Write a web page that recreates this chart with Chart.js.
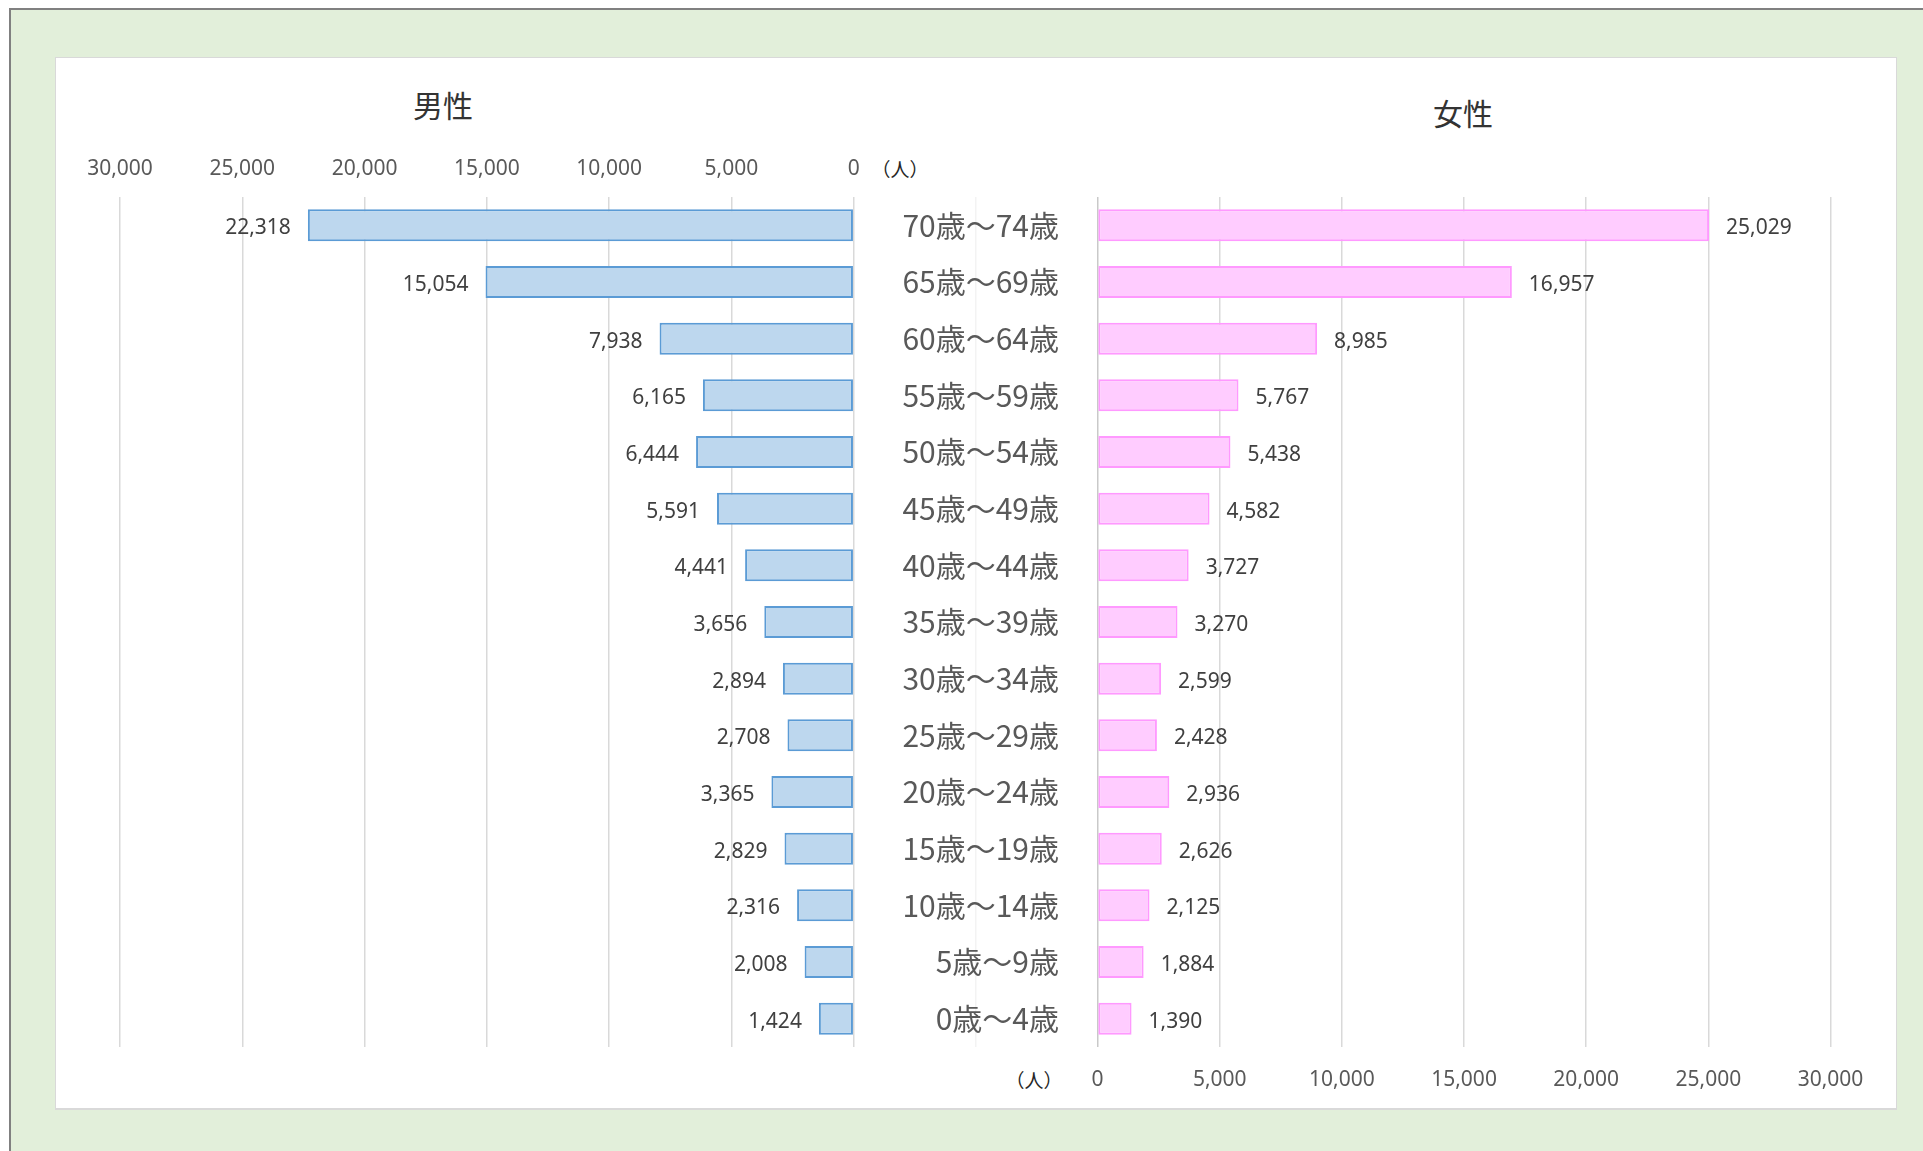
<!DOCTYPE html>
<html lang="ja">
<head>
<meta charset="utf-8">
<title>男女別・年齢別人口</title>
<script src="https://cdn.jsdelivr.net/npm/chart.js@4.4.1/dist/chart.umd.min.js"></script>
<style>
  html, body { margin: 0; padding: 0; width: 1923px; height: 1151px; background: #fff; overflow: hidden; }
  .frame { position: absolute; left: 9px; top: 8px; right: 0; bottom: 0; background: #e2efda;
           border-left: 2px solid #808080; border-top: 2px solid #808080; }
  .panel { position: absolute; left: 55px; top: 57px; width: 1840px; height: 1050px; background: #fff;
           border: 1px solid #d9d9d9; border-bottom-width: 2px; }
  canvas { position: absolute; }
  .label { position: absolute; transform: translate(-50%, -50%); white-space: nowrap;
           font-family: "Noto Sans CJK JP", sans-serif; line-height: 1; }
  .title { font-size: 30px; color: #333; }
  .unit { font-size: 19px; color: #262626; }
</style>
</head>
<body>
<div class="frame"></div>
<div class="panel"></div>

<div class="label title" style="left: 443px; top: 104px;">男性</div>
<div class="label title" style="left: 1463px; top: 112px;">女性</div>
<div class="label unit" style="left: 900px; top: 168px;">（人）</div>
<div class="label unit" style="left: 1034px; top: 1079px;">（人）</div>

<canvas id="male-chart" width="940" height="950" style="left: 60px; top: 120px;"></canvas>
<canvas id="female-chart" width="1000" height="960" style="left: 880px; top: 150px;"></canvas>

<script>
// Age groups, top row first
const ageGroups = [
  '70歳～74歳', '65歳～69歳', '60歳～64歳', '55歳～59歳', '50歳～54歳',
  '45歳～49歳', '40歳～44歳', '35歳～39歳', '30歳～34歳', '25歳～29歳',
  '20歳～24歳', '15歳～19歳', '10歳～14歳', '5歳～9歳', '0歳～4歳'
];

// Population (人)
const maleCounts = [22318, 15054, 7938, 6165, 6444, 5591, 4441, 3656, 2894, 2708, 3365, 2829, 2316, 2008, 1424];
const femaleCounts = [25029, 16957, 8985, 5767, 5438, 4582, 3727, 3270, 2599, 2428, 2936, 2626, 2125, 1884, 1390];

// Axis range / tick step
const axisMax = 30000;
const axisStep = 5000;

Chart.defaults.font.family = '"Noto Sans", "Noto Sans CJK JP", sans-serif';
Chart.defaults.color = '#595959';

const fmt = v => v.toLocaleString('en-US');

// keep label overflow from pushing the plot area around
const noScalePadding = s => {
  s.paddingTop = 0;
  s.paddingBottom = 0;
  s.paddingLeft = 0;
  s.paddingRight = 0;
};

// Value labels next to the bar ends (no datalabels plugin available offline)
const barValueLabels = {
  id: 'barValueLabels',
  afterDatasetsDraw(chart) {
    const ctx = chart.ctx;
    ctx.save();
    ctx.font = '21px "Noto Sans", sans-serif';
    ctx.fillStyle = '#404040';
    ctx.textBaseline = 'middle';
    chart.data.datasets.forEach((ds, di) => {
      chart.getDatasetMeta(di).data.forEach((bar, i) => {
        const dir = bar.x >= bar.base ? 1 : -1;
        ctx.textAlign = dir > 0 ? 'left' : 'right';
        ctx.fillText(fmt(ds.data[i]), bar.x + dir * 17, bar.y + 3);
      });
    });
    ctx.restore();
  }
};

const gridColor = '#d9d9d9';

// Male: reversed axis, ticks on top
new Chart(document.getElementById('male-chart'), {
  type: 'bar',
  data: {
    labels: ageGroups,
    datasets: [{
      label: '男性',
      data: maleCounts,
      backgroundColor: '#bdd7ee',
      borderColor: '#5b9bd5',
      borderWidth: 2,
      borderSkipped: false,
      barPercentage: 0.565,
      categoryPercentage: 1
    }]
  },
  options: {
    indexAxis: 'y',
    responsive: false,
    animation: false,
    layout: { padding: { left: 60, right: 24, top: 0, bottom: 23 } },
    plugins: { legend: { display: false }, tooltip: { enabled: false } },
    scales: {
      x: {
        position: 'top',
        reverse: true,
        min: -axisStep,
        max: axisMax,
        afterFit: s => { s.height = 77; noScalePadding(s); },
        ticks: {
          stepSize: axisStep,
          padding: 15.5,
          font: { size: 21 },
          callback: v => (v < 0 ? '' : fmt(v))
        },
        grid: {
          drawTicks: false,
          lineWidth: 1.5,
          color: c => (c.tick && c.tick.value < 0 ? '#f3f3f3' : gridColor)
        },
        border: { display: false }
      },
      y: { display: false }
    }
  },
  plugins: [barValueLabels]
});

// Female: ticks at the bottom, age labels on its y axis
new Chart(document.getElementById('female-chart'), {
  type: 'bar',
  data: {
    labels: ageGroups,
    datasets: [{
      label: '女性',
      data: femaleCounts,
      backgroundColor: '#ffccff',
      borderColor: '#ff99ff',
      borderWidth: 2,
      borderSkipped: false,
      barPercentage: 0.565,
      categoryPercentage: 1
    }]
  },
  options: {
    indexAxis: 'y',
    responsive: false,
    animation: false,
    layout: { padding: { left: 0, right: 49.5, top: 47, bottom: 3 } },
    plugins: { legend: { display: false }, tooltip: { enabled: false } },
    scales: {
      x: {
        position: 'bottom',
        min: 0,
        max: axisMax,
        afterFit: s => { s.height = 60; noScalePadding(s); },
        ticks: { stepSize: axisStep, padding: 20.5, font: { size: 21 }, callback: v => fmt(v) },
        grid: {
          drawTicks: false,
          lineWidth: 1.5,
          color: c => (c.tick && c.tick.value === 0 ? '#c9c9c9' : gridColor)
        },
        border: { display: false }
      },
      y: {
        position: 'left',
        afterFit: s => { s.width = 217.6; noScalePadding(s); },
        ticks: {
          padding: 38.6,
          color: '#595959',
          font: { family: '"Noto Sans CJK JP", sans-serif', size: 30 }
        },
        grid: { display: false, drawTicks: false },
        border: { display: false }
      }
    }
  },
  plugins: [barValueLabels]
});
</script>
</body>
</html>
